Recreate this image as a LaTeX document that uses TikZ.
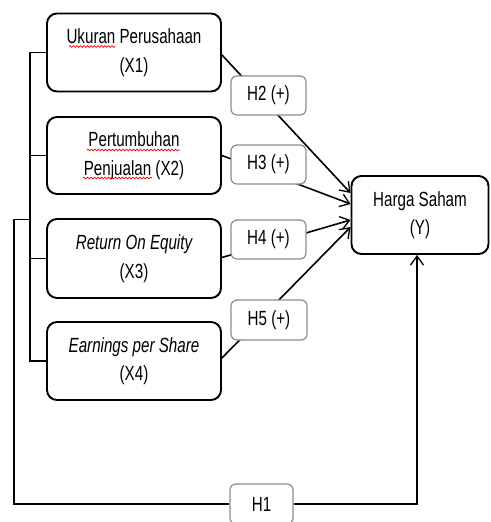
\documentclass[tikz,border=0pt]{standalone}
\usepackage{fontspec}
\setmainfont{Liberation Sans}[FakeStretch=0.74]
\usetikzlibrary{arrows.meta,decorations.pathmorphing}
\begin{document}
\begin{tikzpicture}[x=1pt,y=-1pt,
  mainbox/.style={draw=black,line width=1.9pt,rounded corners=10pt,fill=white,
    minimum width=174pt,minimum height=78pt,align=center,inner sep=0pt,
    font=\fontsize{20.5}{28.5}\selectfont},
  hbox/.style={draw=black!45,line width=1.2pt,rounded corners=6pt,fill=white,
    minimum width=75pt,minimum height=39pt,inner sep=0pt,
    font=\fontsize{20.5}{23}\selectfont},
  conn/.style={line width=1.6pt},
  arr/.style={line width=1.6pt,-{Straight Barb[length=9pt,width=13pt,line width=1.3pt]}},
  spell/.style={red,line width=0.7pt,decorate,decoration={snake,segment length=3.5pt,amplitude=0.9pt}}
]
\useasboundingbox (0,0) rectangle (490,522);

\node[mainbox] (X1) at (134,52.5) {Ukuran Perusahaan\\(X1)};
\node[mainbox,minimum height=77pt] (X2) at (134,155.5) {Pertumbuhan\\Penjualan (X2)};
\node[mainbox,minimum height=79pt] (X3) at (134,258.5) {\itshape Return On Equity\\(X3)};
\node[mainbox] (X4) at (134,361) {\itshape Earnings per Share\\(X4)};
\node[mainbox,minimum width=137pt] (Y) at (420,215) {Harga Saham\\(Y)};

% spell-check marks
\draw[spell] (69,46.5) -- (115,46.5);
\draw[spell] (87,150) -- (180,150);
\draw[spell] (83,178) -- (152,178);

% connectors to Y
\draw[arr] ([yshift=-2.5pt]X1.east) -- ([yshift=22pt]Y.west);
\draw[arr] (X2.east) -- ([yshift=11pt]Y.west);
\draw[arr] ([yshift=1pt]X3.east) -- ([yshift=-5pt]Y.west);
\draw[arr] ([yshift=3pt]X4.east) -- ([yshift=-12pt]Y.west);

% bracket
\draw[conn] (X1.west) -- ++(-16,0) |- (X4.west);
\draw[conn] (X2.west) -- ++(-16,0);
\draw[conn] (X3.west) -- ++(-16,0);

% H1 path
\node[hbox,minimum width=63pt,minimum height=40pt] (H1) at (261.5,504) {H1};
\coordinate (b1) at (31,219.5);
\draw[conn] (b1) -- (14,219.5) |- (H1.west);
\draw[arr] (H1.east) -| ([xshift=-3pt]Y.south);

% hypothesis labels
\node[hbox] (H2) at (268.5,95.5) {H2 (+)};
\node[hbox] (H3) at (268.5,164.5) {H3 (+)};
\node[hbox] (H4) at (268.5,239.5) {H4 (+)};
\node[hbox,minimum width=76pt,minimum height=40pt] (H5) at (269,320) {H5 (+)};
\end{tikzpicture}
\end{document}
